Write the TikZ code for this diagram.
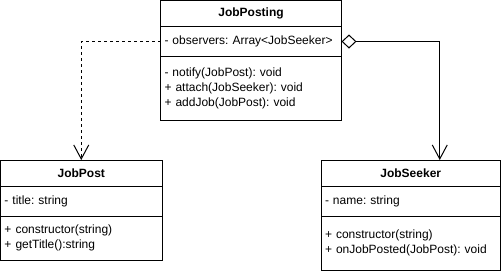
\documentclass[tikz,border=0pt]{standalone}
\usepackage{fontspec}
\setmainfont{Liberation Sans}
\usetikzlibrary{arrows.meta,positioning}
\frenchspacing

\begin{document}
\begin{tikzpicture}[x=1pt,y=-1pt,
  every node/.style={font=\fontsize{12}{15}\selectfont,line width=1pt,outer sep=0pt},
  cmp/.style={draw,rectangle,inner xsep=4pt,inner ysep=0pt,text width=#1-8pt,
     align=left,minimum height=30pt},
  cmp/.default=180pt,
  ttl/.style={cmp=#1,align=center,minimum height=26pt,font=\fontsize{12}{15}\selectfont\bfseries},
  ttl/.default=180pt,
  dep/.style={line width=1pt,dash pattern=on 3pt off 3pt,-{Straight Barb[length=14pt,width=15pt]}},
  agg/.style={line width=1pt,{Diamond[open,length=15pt,width=14pt]}-{Straight Barb[length=14pt,width=15pt]}}]
\path[use as bounding box,fill=white] (0,0) rectangle (501,274);

% subject
\node[ttl=181pt,anchor=north west] (postingT) at (160.5,0.5) {JobPosting};
\node[cmp=181pt,below=0pt of postingT] (postingA) {- observers: Array<JobSeeker>};
\node[cmp=181pt,below=0pt of postingA,minimum height=64pt] (postingM)
  {- notify(JobPost): void\\ + attach(JobSeeker): void\\ + addJob(JobPost): void};

% post
\node[ttl=161.5pt,anchor=north west] (jobpostT) at (0.5,160) {JobPost};
\node[cmp=161.5pt,below=0pt of jobpostT] (jobpostA) {- title: string};
\node[cmp=161.5pt,below=0pt of jobpostA,minimum height=44pt] (jobpostM)
  {+ constructor(string)\\ + getTitle():string};

% observer
\node[ttl=179.5pt,anchor=north west] (seekerT) at (321,160) {JobSeeker};
\node[cmp=179.5pt,below=0pt of seekerT] (seekerA) {- name: string};
\node[cmp=179.5pt,below=0pt of seekerA,minimum height=54pt] (seekerM)
  {+ constructor(string)\\ + onJobPosted(JobPost): void};

\draw[dep] (postingA.west) -| (jobpostT.north);
\draw[agg] (postingA.east) -| ([xshift=29pt]seekerT.north);
\end{tikzpicture}
\end{document}
